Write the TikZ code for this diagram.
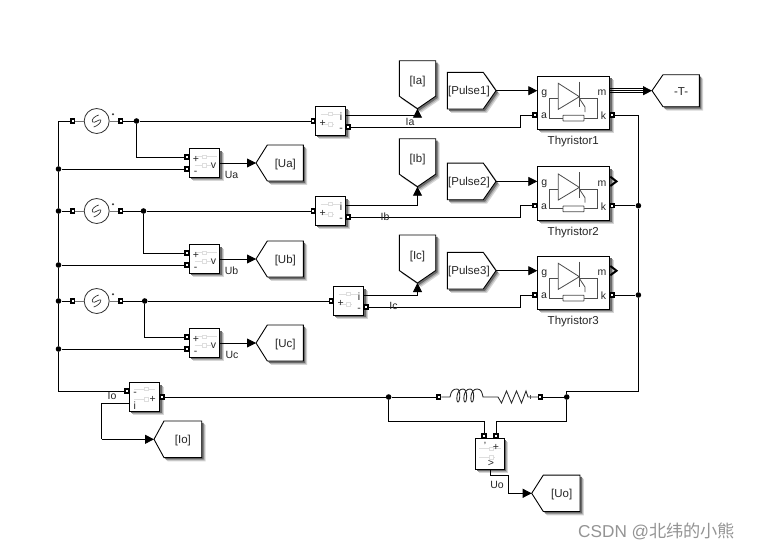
\documentclass[tikz,border=0pt]{standalone}
\usepackage{fontspec}
\setmainfont{Liberation Sans}
\newfontfamily\cjkf{Noto Sans CJK SC}
\usetikzlibrary{arrows.meta,calc}
\newcommand{\fsl}{\fontsize{10.5}{11}\selectfont}
\newcommand{\fsb}{\fontsize{11.5}{12}\selectfont}
\tikzset{
  blockbox/.style={draw=black,fill=white,line width=0.9pt,inner sep=0pt},
  tagshape/.style={draw=black,fill=white,line width=0.9pt,line join=miter},
  wire/.style={draw=black,line width=0.85pt},
  arrowwire/.style={wire,-{Triangle[length=9pt,width=9pt]}},
  portbox/.style={rectangle,draw=black,fill=white,line width=1.5pt,minimum size=3.6pt,inner sep=0pt},
  junc/.style={circle,fill=black,minimum size=5.6pt,inner sep=0pt},
  lab/.style={font=\fsl,inner sep=0pt,text=black!85,yshift=-1pt},
  tagtext/.style={font=\fsb,inner sep=0pt,text=black!85,yshift=-1.2pt},
  iconline/.style={draw=black!13,line width=0.5pt},
  iconwire/.style={draw=black!70,line width=0.8pt},
  leadline/.style={draw=black!55,line width=1pt},
}
% soft shadow below a closed path
\newcommand{\softshadow}[1]{%
  \begin{scope}[shift={(3.8,3.8)}]\fill[black!16] #1;\end{scope}
  \begin{scope}[shift={(2.8,2.8)}]\fill[black!32] #1;\end{scope}
  \begin{scope}[shift={(1.8,1.8)}]\fill[black!58] #1;\end{scope}}
% block rectangle with shadow: name, cx, cy, width, height
\newcommand{\blk}[5]{%
  \softshadow{(#2-#4/2,#3-#5/2) rectangle (#2+#4/2,#3+#5/2)}
  \node[blockbox,minimum width=#4 pt,minimum height=#5 pt] (#1) at (#2,#3) {};}
% left-pointing tag: name, tip x, y, notch x, right x, half height, text
\newcommand{\tagL}[7]{%
  \softshadow{(#2,#3) -- (#4,#3-#6) -- (#5,#3-#6) -- (#5,#3+#6) -- (#4,#3+#6) -- cycle}
  \path[tagshape] (#2,#3) -- (#4,#3-#6) -- (#5,#3-#6) -- (#5,#3+#6) -- (#4,#3+#6) -- cycle;
  \coordinate (#1) at (#2,#3);
  \node[tagtext] (#1-t) at ({(#4+#5)/2},#3) {#7};}
% right-pointing tag: name, left x, y, shoulder x, tip x, text
\newcommand{\tagR}[6]{%
  \softshadow{(#2,#3-18.3) -- (#4,#3-18.3) -- (#5,#3) -- (#4,#3+18.3) -- (#2,#3+18.3) -- cycle}
  \path[tagshape] (#2,#3-18.3) -- (#4,#3-18.3) -- (#5,#3) -- (#4,#3+18.3) -- (#2,#3+18.3) -- cycle;
  \coordinate (#1) at (#5,#3);
  \node[tagtext] (#1-t) at ({(#2+#5)/2-2.7},#3) {#6};}
% down-pointing tag: name, top y, text
\newcommand{\tagD}[3]{%
  \softshadow{(399.3,#2) -- (435.7,#2) -- (435.7,#2+35.5) -- (417.5,#2+48) -- (399.3,#2+35.5) -- cycle}
  \path[tagshape] (399.3,#2) -- (435.7,#2) -- (435.7,#2+35.5) -- (417.5,#2+48) -- (399.3,#2+35.5) -- cycle;
  \coordinate (#1) at (417.5,#2+48);
  \node[tagtext] (#1-t) at (417.5,#2+20) {#3};}
% AC source: name, x, y
\newcommand{\acsrc}[3]{%
  \node[circle,draw=black!80,line width=0.8pt,fill=white,minimum size=25pt,inner sep=0pt] (#1) at (#2,#3) {};
  \node[portbox] (#1-l) at (#2-24,#3) {};
  \node[portbox] (#1-r) at (#2+24,#3) {};
  \draw[leadline] (#1-l) -- (#1);
  \draw[leadline] (#1) -- (#1-r);
  \fill[black!80] (#2+16.3,#3-6.8) circle (1.1pt);
  \draw[line width=0.7pt,black!80] (#2+2,#3-6) .. controls (#2-2,#3-5) and (#2-6,#3-1) .. (#2-4,#3+1)
     .. controls (#2-2,#3+2.5) and (#2+2,#3-2) .. (#2+4,#3-1)
     .. controls (#2+5,#3+1) and (#2+1,#3+5) .. (#2-3,#3+6);}
% two-part faint icon inside a sensor: x left, x right, y1, y2, x box
\newcommand{\sensoricon}[5]{%
  \draw[iconline] (#1,#3) -- (#2,#3);
  \draw[iconline] (#1,#4) -- (#2-6,#4);
  \draw[iconline,fill=white] (#5-2,#3-1.5) rectangle (#5+2,#3+1.5);
  \draw[iconline,fill=white] (#5-2,#4-2) rectangle (#5+2,#4+2);}
% current sensor: name, cx, cy
\newcommand{\isens}[3]{%
  \blk{#1}{#2}{#3}{30.4}{28.6}
  \sensoricon{#2-10}{#2+9}{#3-7}{#3+3}{#2}
  \node[lab] (#1-i) at (#2+10.5,#3-5.3) {i};
  \node[lab] (#1-pl) at (#2-7.8,#3+1) {+};
  \node[lab] (#1-mn) at (#2+10.5,#3+7.5) {-};
  \node[portbox] (#1-a) at (#2-17.4,#3) {};
  \node[portbox] (#1-b) at (#2+17.9,#3+6) {};
  \coordinate (#1-o) at (#2+15.2,#3-5.6);}
% voltage sensor: name, cx, cy
\newcommand{\vsens}[3]{%
  \blk{#1}{#2}{#3}{30.4}{28.6}
  \sensoricon{#2-10}{#2+12}{#3-6.3}{#3+2.7}{#2}
  \node[lab] (#1-pl) at (#2-8.5,#3-5) {+};
  \node[lab] (#1-mn) at (#2-9,#3+8.5) {-};
  \node[lab] (#1-v) at (#2+9,#3+1.5) {v};
  \node[portbox] (#1-a) at (#2-17.9,#3-6) {};
  \node[portbox] (#1-b) at (#2-17.9,#3+6) {};
  \coordinate (#1-o) at (#2+15.2,#3);}
% thyristor: name, top y, caption
\newcommand{\thy}[3]{%
  \blk{#1}{573.5}{#2+26.7}{72.4}{53.3}
  \node[lab] (#1-g) at (544.3,#2+16.5) {g};
  \node[lab] (#1-a) at (544,#2+39) {a};
  \node[lab] (#1-m) at (602,#2+15.5) {m};
  \node[lab] (#1-k) at (603.5,#2+39) {k};
  \draw[iconwire] (549,#2+22.3) -- (549,#2+42) -- (563,#2+42);
  \draw[iconwire] (584,#2+42) -- (597.5,#2+42) -- (597.5,#2+22.3);
  \draw[iconwire] (549,#2+22.3) -- (558.3,#2+22.3);
  \draw[iconwire,fill=white] (558.3,#2+7.3) -- (558.3,#2+33.3) -- (579.3,#2+20.7) -- cycle;
  \draw[iconwire] (579.3,#2+22.3) -- (597.5,#2+22.3);
  \draw[iconwire] (579.3,#2+5.7) -- (579.3,#2+31);
  \draw[iconwire] (579.3,#2+22.3) -- (585,#2+31) -- (585,#2+36);
  \draw[draw=black!70,line width=0.8pt,fill=white,rounded corners=0.5pt] (563,#2+39.3) rectangle (584,#2+45);
  \node[portbox] (#1-pa) at (534.7,#2+39) {};
  \node[portbox] (#1-pk) at (612.4,#2+39) {};
  \coordinate (#1-in) at (537.3,#2+14.7);
  \coordinate (#1-out) at (609.7,#2+14.7);
  \node[tagtext] (#1-cap) at (573.3,#2+64.7) {#3};}
\begin{document}
\begin{tikzpicture}[x=1pt,y=-1pt]
\useasboundingbox[fill=white] (0,0) rectangle (763,552);
% helper lines
\coordinate (bus) at (58.5,0);
\coordinate (tap) at (520.3,0);
\coordinate (rail) at (638.4,0);

% sources
\acsrc{sa}{96.7}{121}
\acsrc{sb}{96.7}{211}
\acsrc{sc}{96.7}{301}

% sensors
\isens{ima}{330.5}{121}
\isens{imb}{330.5}{211}
\isens{imc}{348.5}{301}
\vsens{vma}{204.5}{163}
\vsens{vmb}{204.5}{259}
\vsens{vmc}{204.5}{343}

% output tags
\tagL{ua}{256}{163}{267.3}{303.3}{18}{[Ua]}
\tagL{ub}{256}{259}{267.3}{303.3}{18}{[Ub]}
\tagL{uc}{256}{343}{267.3}{303.3}{18}{[Uc]}
\tagL{io}{154}{439.3}{164}{201.7}{18.3}{[Io]}
\tagL{uo}{531.7}{493.3}{543.3}{580}{18.2}{[Uo]}
\tagL{tt}{652}{90.7}{663}{699.3}{16}{-T-}
\tagD{ia}{60.7}{[Ia]}
\tagD{ib}{138.7}{[Ib]}
\tagD{ic}{235}{[Ic]}

% pulse sources
\tagR{pa}{447.3}{90.7}{483.3}{496}{[Pulse1]}
\tagR{pb}{447.3}{181.4}{483.3}{496}{[Pulse2]}
\tagR{pc}{447.3}{270.7}{483.3}{496}{[Pulse3]}

% thyristors
\thy{tha}{76}{Thyristor1}
\thy{thb}{166.7}{Thyristor2}
\thy{thc}{256}{Thyristor3}

% Io sensor
\blk{iom}{144.5}{397}{30.4}{28.6}
\sensoricon{134}{155}{389}{399.3}{146}
\node[lab] (iom-mn) at (135,392.7) {-};
\node[lab] (iom-pl) at (152.7,398) {+};
\node[lab] (iom-i) at (134.7,404.7) {i};
\node[portbox] (iom-a) at (126.7,391) {};
\node[portbox] (iom-b) at (162.4,397) {};
\coordinate (iom-o) at (130,403.3);

% Uo sensor
\blk{uom}{489.7}{453.8}{29.3}{30.3}
\sensoricon{479}{501}{448.3}{457}{491}
\node[lab] (uom-q) at (485,445) {'};
\node[lab] (uom-pl) at (496,446) {+};
\node[lab] (uom-g) at (491,462.5) {>};
\node[portbox] (uom-a) at (484,436) {};
\node[portbox] (uom-b) at (496,436) {};
\coordinate (uom-o) at (490.3,469);

% load
\node[portbox] (la) at (438.7,397) {};
\node[portbox] (lb) at (540.3,397) {};
\coordinate (l1) at (450,397);
\coordinate (r1) at (498,397);
\coordinate (r2) at (528,397);
\draw[line width=0.85pt,black!85] (la) -- (l1)
  .. controls (451,391) and (453,389) .. (457,389)
  .. controls (461,389) and (460,402) .. (458,402) .. controls (456,402) and (456,389) .. (463,389)
  .. controls (468,389) and (467,402) .. (465,402) .. controls (463,402) and (463,389) .. (470,389)
  .. controls (475,389) and (474,402) .. (472,402) .. controls (470,402) and (470,389) .. (477,389)
  .. controls (481,389) and (482,392) .. (483,397) -- (r1)
  -- (501.5,403) -- (506.5,391) -- (511.5,403) -- (516.5,391) -- (521.5,403) -- (526,391) -- (r2)
  -- (lb);
\draw[line width=0.6pt,black!70] (530.5,395) -- (530.5,399);

% junctions
\node[junc] (ja) at (136.5,121) {};
\node[junc] (jb) at (143.5,211) {};
\node[junc] (jc) at (144.7,301) {};
\node[junc] (j1) at (58.5,169) {};
\node[junc] (j2) at (58.5,211) {};
\node[junc] (j3) at (58.5,265) {};
\node[junc] (j4) at (58.5,301) {};
\node[junc] (j5) at (58.5,349) {};
\node[junc] (j6) at (638.4,205.7) {};
\node[junc] (j7) at (638.4,295) {};
\node[junc] (j8) at (388.6,397) {};
\node[junc] (j9) at (566.7,397) {};

% bus and source wiring
\draw[wire] (sa-l) -- (sa-l -| bus) -- (j1) -- (j2) -- (j3) -- (j4) -- (j5) -- (iom-a -| bus) -- (iom-a);
\draw[wire] (j2) -- (sb-l);
\draw[wire] (j4) -- (sc-l);
\draw[wire] (sa-r) -- (ja) -- (ima-a);
\draw[wire] (sb-r) -- (jb) -- (imb-a);
\draw[wire] (sc-r) -- (jc) -- (imc-a);
\draw[wire] (ja) |- (vma-a);
\draw[wire] (jb) |- (vmb-a);
\draw[wire] (jc) |- (vmc-a);
\draw[wire] (j1) -- (vma-b);
\draw[wire] (j3) -- (vmb-b);
\draw[wire] (j5) -- (vmc-b);

% voltage outputs
\draw[arrowwire] (vma-o) -- (ua);
\draw[arrowwire] (vmb-o) -- (ub);
\draw[arrowwire] (vmc-o) -- (uc);

% current outputs to tags
\draw[arrowwire] (ima-o) -| (ia);
\draw[arrowwire] (imb-o) -| (ib);
\draw[arrowwire] (imc-o) -| (ic);

% sensor to thyristor
\draw[wire] (ima-b) -- (ima-b -| tap) |- (tha-pa);
\draw[wire] (imb-b) -- (imb-b -| tap) |- (thb-pa);
\draw[wire] (imc-b) -- (imc-b -| tap) |- (thc-pa);

% pulses
\draw[arrowwire] (pa) -- (tha-in);
\draw[arrowwire] (pb) -- (thb-in);
\draw[arrowwire] (pc) -- (thc-in);

% thyristor m outputs
\draw[wire] ([yshift=-2pt]tha-out) -- ([yshift=-2pt,xshift=-8pt]tt);
\draw[wire] ([yshift=2pt]tha-out) -- ([yshift=2pt,xshift=-8pt]tt);
\draw[arrowwire] (tha-out) -- (tt);
\draw[line width=2pt,black] (610.3,176.7) -- (616.5,181.4) -- (610.3,186);
\draw[line width=2pt,black] (610.3,266) -- (616.5,270.7) -- (610.3,275.3);

% right rail
\draw[wire] (tha-pk) -- (tha-pk -| rail) -- (j6) -- (j7) -- ($(j9 -| rail)+(0,-5.7)$) -- ($(j9)+(0,-5.7)$) -- (j9);
\draw[wire] (thb-pk) -- (j6);
\draw[wire] (thc-pk) -- (j7);

% load wiring
\draw[wire] (iom-b) -- (j8) -- (la);
\draw[wire] (lb) -- (j9);
\draw[wire] (j8) -- ($(j8)+(0,24)$) -| (uom-a);
\draw[wire] (j9) -- ($(j9)+(0,24)$) -| (uom-b);

% outputs of the two lower sensors
\coordinate (iob) at (101.7,403.3);
\draw[wire] (iom-o) -- (iob) -- (iob |- io);
\draw[arrowwire] (iob |- io) -- (io);
\coordinate (uob1) at (490.3,475.3);
\coordinate (uob2) at (508.3,475.3);
\draw[wire] (uom-o) -- (uob1) -- (uob2) -- (uob2 |- uo);
\draw[arrowwire] (uob2 |- uo) -- (uo);

% signal labels
\node[lab] (lua) at (231.5,173.5) {Ua};
\node[lab] (lub) at (231.5,269.5) {Ub};
\node[lab] (luc) at (232,353.5) {Uc};
\node[lab] (lia) at (410,121) {Ia};
\node[lab] (lib) at (385,215.5) {Ib};
\node[lab] (lic) at (393.5,305) {Ic};
\node[lab] (lio) at (112,395) {Io};
\node[lab] (luo) at (497,484) {Uo};

% watermark
\node[anchor=west,inner sep=0pt,text=black!42,font=\fontsize{17.2}{18}\selectfont] (wm) at (578,531) {CSDN @{\cjkf 北纬的小熊}};
\end{tikzpicture}
\end{document}
